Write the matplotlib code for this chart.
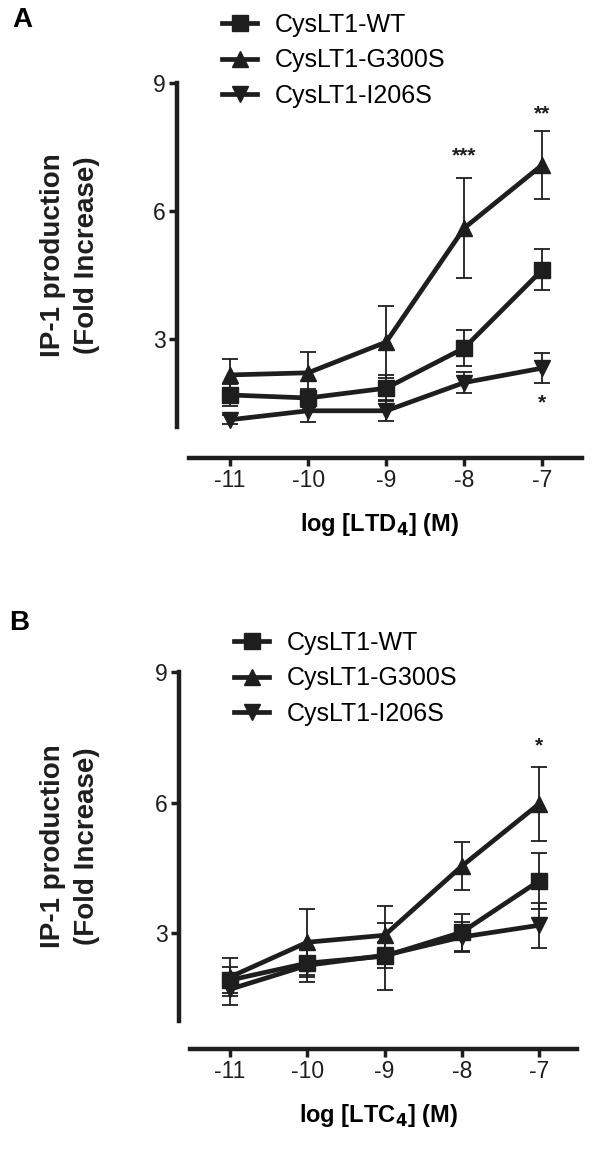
import matplotlib
matplotlib.use("Agg")
import matplotlib.pyplot as plt
from matplotlib.lines import Line2D

plt.rcParams['font.family'] = ['Liberation Sans', 'DejaVu Sans']
plt.rcParams['axes.unicode_minus'] = False

log_conc = [-11, -10, -9, -8, -7]
series_names = ['CysLT1-WT', 'CysLT1-G300S', 'CysLT1-I206S']
series_markers = ['s', '^', 'v']

# panel A (LTD4)
a_wt = [1.69, 1.62, 1.85, 2.79, 4.62]
a_wt_err = [0.25, 0.20, 0.30, 0.43, 0.48]
a_g300s = [2.16, 2.21, 2.93, 5.60, 7.08]
a_g300s_err = [0.37, 0.49, 0.84, 1.18, 0.80]
a_i206s = [1.11, 1.32, 1.32, 1.98, 2.32]
a_i206s_err = [0.10, 0.27, 0.25, 0.24, 0.35]
a_stars = [(-8, 7.3, '***'), (-7, 8.28, '**'), (-7, 1.5, '*')]

# panel B (LTC4)
b_wt = [1.92, 2.31, 2.47, 3.02, 4.20]
b_wt_err = [0.30, 0.32, 0.77, 0.42, 0.64]
b_g300s = [1.99, 2.79, 2.95, 4.54, 5.97]
b_g300s_err = [0.44, 0.76, 0.67, 0.56, 0.85]
b_i206s = [1.71, 2.26, 2.49, 2.91, 3.18]
b_i206s_err = [0.36, 0.39, 0.30, 0.35, 0.52]
b_stars = [(-7, 7.3, '*')]

INK = '#1e1e1e'
W, H = 600, 1154
fig = plt.figure(figsize=(W / 100, H / 100), dpi=100)


def px_axes(left, top, right, bottom):
    return fig.add_axes([left / W, 1 - bottom / H, (right - left) / W, (bottom - top) / H])


def draw_panel(ax, values, errors, stars, xlim, ylim, xlabel, xoffset):
    for y, e, m in zip(values, errors, series_markers):
        ax.errorbar(log_conc, y, yerr=e, color=INK, marker=m, markersize=11.5,
                    linewidth=3.4, elinewidth=1.3, capsize=5.5, capthick=1.3,
                    clip_on=False)
    for x, y, s in stars:
        ax.text(x, y, s, ha='center', va='center', fontsize=15,
                fontweight='bold', color=INK)
    ax.set_xlim(*xlim)
    ax.set_ylim(*ylim)
    ax.set_xticks(log_conc)
    ax.set_yticks([3, 6, 9])
    for side in ['top', 'right']:
        ax.spines[side].set_visible(False)
    ax.spines['left'].set_linewidth(3.2)
    ax.spines['bottom'].set_linewidth(3.2)
    ax.spines['left'].set_color(INK)
    ax.spines['bottom'].set_color(INK)
    ax.spines['bottom'].set_position(('outward', xoffset))
    ax.spines['bottom'].set_bounds(-11.52, xlim[1])
    ax.tick_params(axis='both', length=6, width=2.5, colors=INK,
                   labelsize=16.5, pad=2)
    ax.set_xlabel(xlabel, fontsize=17, fontweight='bold', labelpad=14)


ax_a = px_axes(177, 83, 582, 427)
draw_panel(ax_a, [a_wt, a_g300s, a_i206s], [a_wt_err, a_g300s_err, a_i206s_err],
           a_stars, (-11.68, -6.49), (0.94, 9), r'log [LTD$_\mathbf{4}$] (M)', 22)

ax_b = px_axes(179, 672, 577, 1021)
draw_panel(ax_b, [b_wt, b_g300s, b_i206s], [b_wt_err, b_g300s_err, b_i206s_err],
           b_stars, (-11.66, -6.51), (0.98, 9), r'log [LTC$_\mathbf{4}$] (M)', 20)

ylab = 'IP-1 production\n(Fold Increase)'
fig.text(70 / W, 1 - 255 / H, ylab, rotation=90, ha='center', va='center',
         fontsize=20, fontweight='bold', linespacing=1.35, color=INK)
fig.text(70 / W, 1 - 846 / H, ylab, rotation=90, ha='center', va='center',
         fontsize=20, fontweight='bold', linespacing=1.35, color=INK)

fig.text(22 / W, 1 - 20 / H, 'A', ha='center', va='center', fontsize=20,
         fontweight='bold')
fig.text(19 / W, 1 - 623 / H, 'B', ha='center', va='center', fontsize=20,
         fontweight='bold')

handles = [Line2D([], [], color=INK, marker=m, markersize=11, linewidth=3.4)
           for m in series_markers]
fig.legend(handles, series_names, loc='upper left',
           bbox_to_anchor=(222 / W, 1 - 13 / H), frameon=False, fontsize=18,
           handlelength=1.4, handletextpad=0.7, labelspacing=0.45,
           borderaxespad=0, borderpad=0)
fig.legend(handles, series_names, loc='upper left',
           bbox_to_anchor=(234 / W, 1 - 631 / H), frameon=False, fontsize=18,
           handlelength=1.4, handletextpad=0.7, labelspacing=0.45,
           borderaxespad=0, borderpad=0)

fig.savefig('out.png', dpi=100)
